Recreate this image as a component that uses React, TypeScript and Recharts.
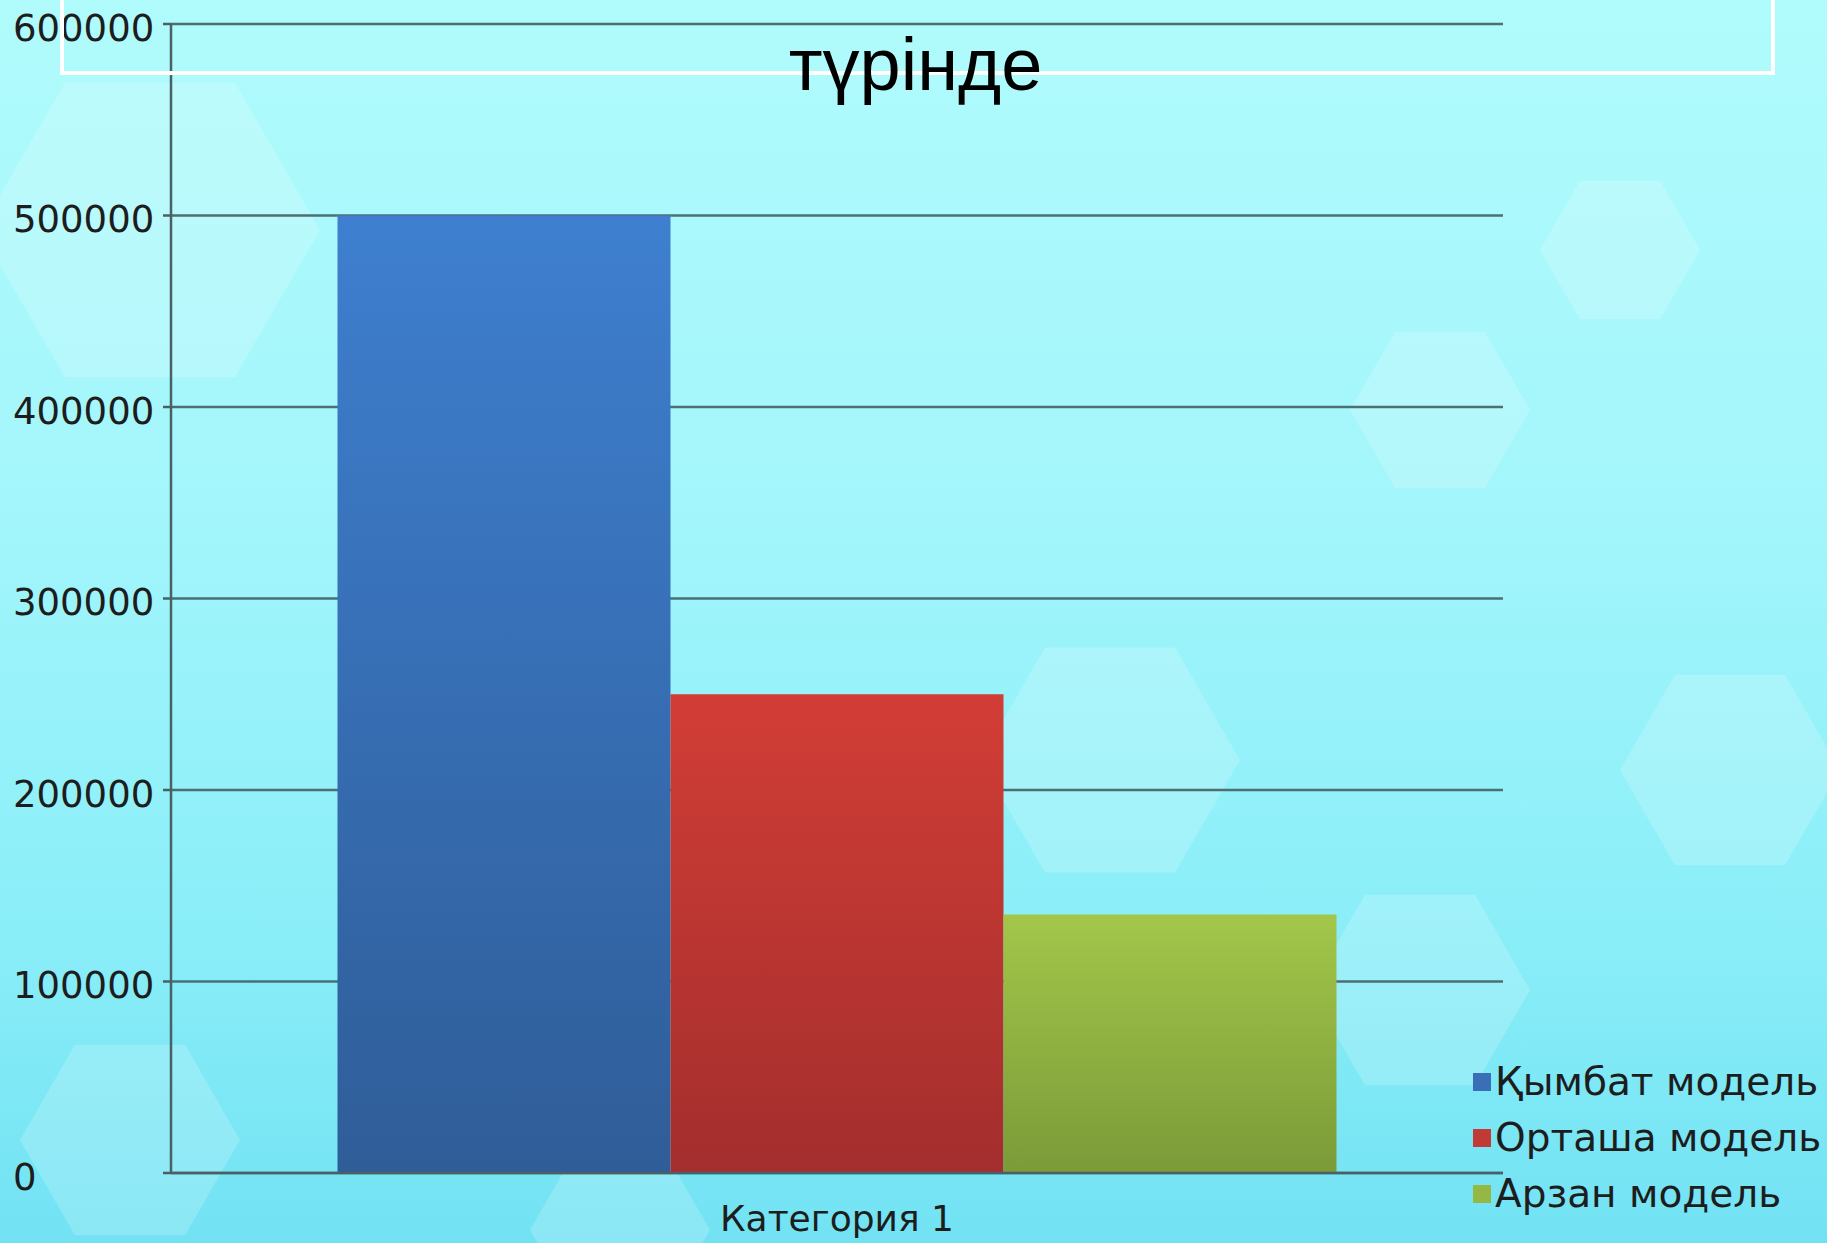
import { Bar, BarChart, CartesianGrid, XAxis, YAxis } from "recharts";

const categories = ["Категория 1"];
const expensiveModel = [500000];
const middleModel = [250000];
const cheapModel = [135000];
const yTicks = [0, 100000, 200000, 300000, 400000, 500000, 600000];
const seriesNames = ["Қымбат модель", "Орташа модель", "Арзан модель"];
const seriesColors = ["#3a6fb8", "#c23a35", "#94b843"];
const titleLine = "түрінде";

const data = categories.map((name, i) => ({
  name,
  expensive: expensiveModel[i],
  middle: middleModel[i],
  cheap: cheapModel[i]
}));

const axisFont = "'DejaVu Sans', Verdana, sans-serif";

function YTick({ y, payload }: any) {
  return (
    <text x={13} y={y} dy={4} dominantBaseline="central" fontFamily={axisFont} fontSize={37} fill="#1d1d1d">
      {payload.value}
    </text>
  );
}

function XTick({ x, y, payload }: any) {
  return (
    <text x={x} y={y} dy={37} dominantBaseline="central" textAnchor="middle" fontFamily={axisFont} fontSize={36} fill="#1d1d1d">
      {payload.value}
    </text>
  );
}

function LegendBox() {
  return (
    <div style={{ fontFamily: axisFont, fontSize: 39, color: "#1d1d1d", lineHeight: "56px" }}>
      {seriesNames.map((name, i) => (
        <div key={name} style={{ display: "flex", alignItems: "center", whiteSpace: "nowrap" }}>
          <span style={{ width: 18, height: 18, background: seriesColors[i], marginRight: 4, display: "inline-block" }} />
          {name}
        </div>
      ))}
    </div>
  );
}

// faint background hexagons
const hexes = [
  [150, 230, 170], [1440, 410, 90], [1730, 770, 110], [1420, 990, 110], [130, 1140, 110],
  [620, 1230, 90], [1110, 760, 130], [1620, 250, 80]
];

function hexPath(cx: number, cy: number, r: number) {
  const pts = [];
  for (let k = 0; k < 6; k++) {
    const a = (Math.PI / 3) * k;
    pts.push(`${cx + r * Math.cos(a)},${cy + r * Math.sin(a)}`);
  }
  return pts.join(" ");
}

export default function App() {
  return (
    <div
      style={{
        position: "absolute",
        left: 0,
        top: 0,
        width: 1827,
        height: 1243,
        overflow: "hidden",
        background: "linear-gradient(180deg, #b0fbfc 0%, #a3f6fb 40%, #8aeef8 75%, #72e2f3 100%)"
      }}
    >
      <svg width={1827} height={1243} style={{ position: "absolute", left: 0, top: 0 }}>
        {hexes.map(([cx, cy, r], i) => (
          <polygon key={i} points={hexPath(cx, cy, r)} fill="#ffffff" opacity={0.18} />
        ))}
      </svg>
      <div style={{ position: "absolute", left: 0, top: 0 }}>
        <BarChart
          width={1827}
          height={1243}
          data={data}
          margin={{ top: 24, right: 324, bottom: 0, left: 0 }}
          barCategoryGap="12.5%"
          barGap={0}
        >
          <defs>
            <linearGradient id="gBlue" x1="0" y1="0" x2="0" y2="1">
              <stop offset="0%" stopColor="#3e7fcf" />
              <stop offset="100%" stopColor="#2f5d98" />
            </linearGradient>
            <linearGradient id="gRed" x1="0" y1="0" x2="0" y2="1">
              <stop offset="0%" stopColor="#d23d36" />
              <stop offset="100%" stopColor="#a32e2d" />
            </linearGradient>
            <linearGradient id="gGreen" x1="0" y1="0" x2="0" y2="1">
              <stop offset="0%" stopColor="#a3c64a" />
              <stop offset="100%" stopColor="#7a9b38" />
            </linearGradient>
          </defs>
          <CartesianGrid horizontal vertical={false} stroke="#4b6f73" strokeWidth={2.5} />
          <XAxis dataKey="name" height={70} tick={<XTick />} tickLine={false} axisLine={{ stroke: "#4a6064", strokeWidth: 2.5 }} />
          <YAxis
            width={171}
            domain={[0, 600000]}
            ticks={yTicks}
            tick={<YTick />}
            tickSize={8}
            tickLine={{ stroke: "#4a6064", strokeWidth: 2.5 }}
            axisLine={{ stroke: "#4a6064", strokeWidth: 2.5 }}
            interval={0}
          />
          <Bar dataKey="expensive" name={seriesNames[0]} fill="url(#gBlue)" isAnimationActive={false} />
          <Bar dataKey="middle" name={seriesNames[1]} fill="url(#gRed)" isAnimationActive={false} />
          <Bar dataKey="cheap" name={seriesNames[2]} fill="url(#gGreen)" isAnimationActive={false} />
        </BarChart>
      </div>
      <div style={{ position: "absolute", left: 1473, top: 1054 }}>
        <LegendBox />
      </div>
      <div
        style={{
          position: "absolute",
          left: 60,
          top: -20,
          width: 1707,
          height: 91,
          borderLeft: "4px solid #ffffff",
          borderRight: "4px solid #ffffff",
          borderBottom: "4px solid #ffffff"
        }}
      />
      <div
        style={{
          position: "absolute",
          left: 60,
          width: 1711,
          top: 28,
          textAlign: "center",
          fontFamily: "'Liberation Sans', Arial, sans-serif",
          fontSize: 74,
          lineHeight: "74px",
          color: "#000000"
        }}
      >
        {titleLine}
      </div>
    </div>
  );
}
